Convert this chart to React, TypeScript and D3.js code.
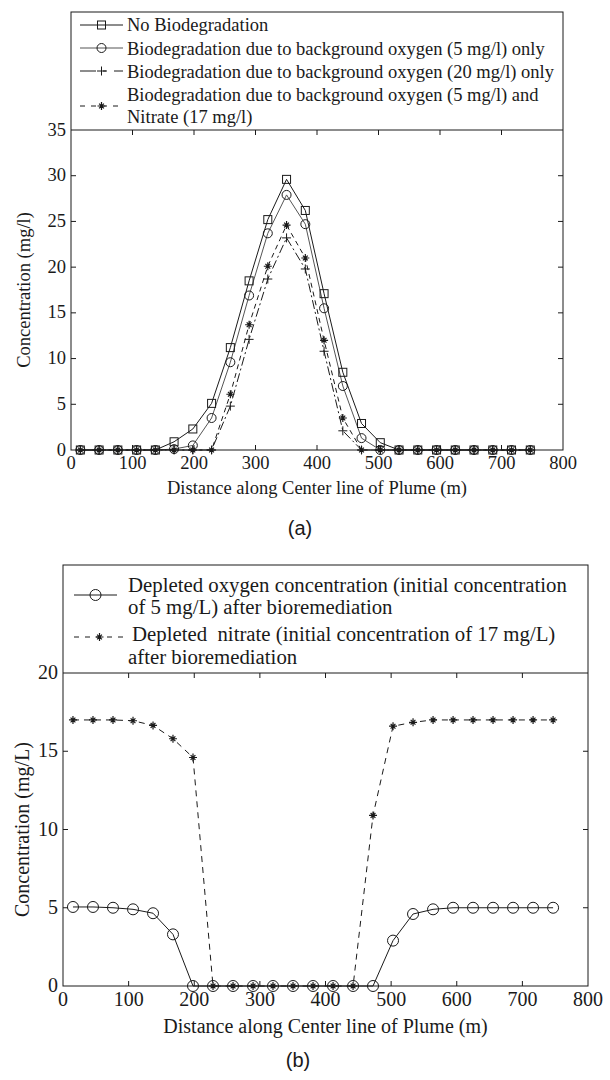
import React from "react";
import * as d3 from "d3";

// Distance of each grid cell centre along the plume centre line (m)
const distance = [
  15.2, 45.7, 76.2, 106.7, 137.2, 167.6, 198.1, 228.6, 259.1, 289.6, 320.0, 350.5,
  381.0, 411.5, 442.0, 472.4, 502.9, 533.4, 563.9, 594.4, 624.8, 655.3, 685.8, 716.3, 746.8,
];

// Panel (a): contaminant concentration (mg/l)
const noBiodegradation = [
  0, 0, 0, 0, 0, 0.9, 2.3, 5.1, 11.2, 18.5, 25.2, 29.6, 26.2, 17.1, 8.5, 2.9, 0.8, 0, 0, 0, 0, 0, 0, 0, 0,
];
const oxygen5Only = [
  0, 0, 0, 0, 0, 0.1, 0.5, 3.5, 9.6, 16.9, 23.7, 27.9, 24.7, 15.5, 7.0, 1.3, 0, 0, 0, 0, 0, 0, 0, 0, 0,
];
const oxygen20Only = [
  0, 0, 0, 0, 0, 0, 0, 0, 4.8, 12.1, 18.7, 23.2, 19.8, 10.8, 2.1, 0, 0, 0, 0, 0, 0, 0, 0, 0, 0,
];
const oxygen5Nitrate17 = [
  0, 0, 0, 0, 0, 0, 0, 0, 6.1, 13.7, 20.1, 24.6, 21.0, 12.0, 3.5, 0, 0, 0, 0, 0, 0, 0, 0, 0, 0,
];

// Panel (b): electron acceptor remaining after bioremediation (mg/L)
const depletedOxygen = [
  5.05, 5.05, 5.0, 4.9, 4.65, 3.3, 0, 0, 0, 0, 0, 0, 0, 0, 0, 0, 2.9, 4.6, 4.9, 5.0, 5.0, 5.0, 5.0, 5.0, 5.0,
];
const depletedNitrate = [
  17.0, 17.0, 17.0, 16.95, 16.65, 15.8, 14.6, 0, 0, 0, 0, 0, 0, 0, 0, 10.9, 16.6, 16.85, 17.0, 17.0, 17.0,
  17.0, 17.0, 17.0, 17.0,
];

const xTicks = [0, 100, 200, 300, 400, 500, 600, 700, 800];
const yTicksA = [0, 5, 10, 15, 20, 25, 30, 35];
const yTicksB = [0, 5, 10, 15, 20];

const SERIF = "'Liberation Serif', 'Times New Roman', serif";
const SANS = "'Liberation Sans', Arial, sans-serif";
const INK = "#1a1a1a";
const GREY = "#555";

type MarkerKind = "square" | "circle" | "plus" | "star";

function Marker({ kind, x, y, s }: { kind: MarkerKind; x: number; y: number; s: number }) {
  const h = s / 2;
  if (kind === "square")
    return <rect x={x - h} y={y - h} width={s} height={s} fill="none" stroke={INK} strokeWidth={1} />;
  if (kind === "circle") return <circle cx={x} cy={y} r={h} fill="none" stroke={INK} strokeWidth={1} />;
  if (kind === "plus")
    return <path d={`M${x - h},${y}H${x + h}M${x},${y - h}V${y + h}`} stroke={INK} strokeWidth={1} />;
  const d = h * 0.6;
  return (
    <path
      d={`M${x - h},${y}H${x + h}M${x},${y - h}V${y + h}M${x - d},${y - d}L${x + d},${y + d}M${x - d},${y + d}L${x + d},${y - d}`}
      stroke={INK}
      strokeWidth={1.2}
    />
  );
}

type Series = { values: number[]; kind: MarkerKind; dash?: string; color: string; size: number };

function Panel({
  x,
  y,
  top,
  yTicks,
  series,
  fontSize,
  yTitle,
  xTitleY,
  letter,
  letterX,
  letterY,
  yTitleX,
  legend,
}: {
  x: d3.ScaleLinear<number, number>;
  y: d3.ScaleLinear<number, number>;
  top: number;
  yTicks: number[];
  series: Series[];
  fontSize: number;
  yTitle: string;
  xTitleY: number;
  letter: string;
  letterX: number;
  letterY: number;
  yTitleX: number;
  legend: React.ReactNode;
}) {
  const [x0, x1] = x.range();
  const [y0, y1] = y.range();
  const tick = 5;
  const line = d3
    .line<number>()
    .x((_, i) => x(distance[i]))
    .y((v) => y(v));
  return (
    <g>
      {series.map((s, k) => (
        <path key={k} d={line(s.values) || ""} fill="none" stroke={s.color} strokeWidth={1} strokeDasharray={s.dash} />
      ))}
      {series.map((s, k) => (
        <g key={k}>
          {s.values.map((v, i) => (
            <Marker key={i} kind={s.kind} x={x(distance[i])} y={y(v)} s={s.size} />
          ))}
        </g>
      ))}
      {/* frame */}
      <rect x={x0} y={top} width={x1 - x0} height={y0 - top} fill="none" stroke={INK} strokeWidth={1} />
      <line x1={x0} x2={x1} y1={y1} y2={y1} stroke={INK} strokeWidth={1} />
      {xTicks.slice(1, -1).map((t) => (
        <g key={t}>
          <line x1={x(t)} x2={x(t)} y1={y0} y2={y0 - tick} stroke={INK} />
          <line x1={x(t)} x2={x(t)} y1={y1} y2={y1 + tick} stroke={INK} />
        </g>
      ))}
      {yTicks.slice(1, -1).map((t) => (
        <g key={t}>
          <line x1={x0} x2={x0 + tick} y1={y(t)} y2={y(t)} stroke={INK} />
          <line x1={x1} x2={x1 - tick} y1={y(t)} y2={y(t)} stroke={INK} />
        </g>
      ))}
      <g fontFamily={SERIF} fontSize={fontSize} fill={INK}>
        {yTicks.map((t) => (
          <text key={t} x={x0 - 5} y={y(t) + fontSize * 0.3} textAnchor="end">
            {t}
          </text>
        ))}
        {xTicks.map((t) => (
          <text key={t} x={x(t)} y={y0 + fontSize * 1.0} textAnchor="middle">
            {t}
          </text>
        ))}
        <text x={(x0 + x1) / 2} y={xTitleY} textAnchor="middle">
          Distance along Center line of Plume (m)
        </text>
        <text
          transform={`translate(${yTitleX},${(y0 + y1) / 2}) rotate(-90)`}
          textAnchor="middle"
          dominantBaseline="central"
        >
          {yTitle}
        </text>
      </g>
      <text x={letterX} y={letterY} textAnchor="middle" fontFamily={SANS} fontSize={20} fill={INK}>
        {letter}
      </text>
      {legend}
    </g>
  );
}

function LegendKey({
  x1,
  x2,
  y,
  kind,
  dash,
  size,
  color,
}: {
  x1: number;
  x2: number;
  y: number;
  kind: MarkerKind;
  dash?: string;
  size: number;
  color: string;
}) {
  return (
    <g>
      <line x1={x1} x2={x2} y1={y} y2={y} stroke={color} strokeWidth={1} strokeDasharray={dash} />
      <Marker kind={kind} x={(x1 + x2) / 2} y={y} s={size} />
    </g>
  );
}

export default function App() {
  // panel (a)
  const xA = d3.scaleLinear().domain([0, 800]).range([71, 563]);
  const yA = d3.scaleLinear().domain([0, 35]).range([450, 130]);
  const seriesA: Series[] = [
    { values: noBiodegradation, kind: "square", color: INK, size: 8 },
    { values: oxygen5Only, kind: "circle", color: GREY, size: 9 },
    { values: oxygen20Only, kind: "plus", dash: "9,3,2,3", color: INK, size: 9 },
    { values: oxygen5Nitrate17, kind: "star", dash: "5,4", color: INK, size: 8 },
  ];
  const fsA = 18.5;
  const legendA = (
    <g fontFamily={SERIF} fontSize={fsA} fill={INK}>
      <LegendKey x1={80} x2={123} y={25} kind="square" size={8} color={INK} />
      <LegendKey x1={80} x2={123} y={48} kind="circle" size={9} color={GREY} />
      <LegendKey x1={80} x2={123} y={71} kind="plus" dash="16,7,4,7" size={9} color={INK} />
      <LegendKey x1={80} x2={123} y={106} kind="star" dash="5,6" size={8} color={INK} />
      <text x={127} y={31}>No Biodegradation</text>
      <text x={127} y={55}>Biodegradation due to background oxygen (5 mg/l) only</text>
      <text x={127} y={78}>Biodegradation due to background oxygen (20 mg/l) only</text>
      <text x={127} y={101}>Biodegradation due to background oxygen (5 mg/l) and</text>
      <text x={127} y={123}>Nitrate (17 mg/l)</text>
    </g>
  );

  // panel (b)
  const xB = d3.scaleLinear().domain([0, 800]).range([63, 588]);
  const yB = d3.scaleLinear().domain([0, 20]).range([986, 673]);
  const seriesB: Series[] = [
    { values: depletedOxygen, kind: "circle", color: INK, size: 11 },
    { values: depletedNitrate, kind: "star", dash: "6,5", color: INK, size: 8 },
  ];
  const fsB = 20;
  const legendB = (
    <g fontFamily={SERIF} fontSize={20.8} fill={INK}>
      <LegendKey x1={74} x2={117} y={595} kind="circle" size={11} color={INK} />
      <LegendKey x1={74} x2={125} y={637} kind="star" dash="5,6" size={8} color={INK} />
      <text x={128} y={592}>Depleted oxygen concentration (initial concentration</text>
      <text x={128} y={614}>of 5 mg/L) after bioremediation</text>
      <text x={132} y={641}>Depleted&#160; nitrate (initial concentration of 17 mg/L)</text>
      <text x={128} y={664}>after bioremediation</text>
    </g>
  );

  return (
    <svg width={610} height={1080} style={{ display: "block", position: "absolute", left: 0, top: 0 }}>
      <rect width={610} height={1080} fill="#fff" />
      <Panel
        x={xA}
        y={yA}
        top={12}
        yTicks={yTicksA}
        series={seriesA}
        fontSize={fsA}
        yTitle="Concentration (mg/l)"
        xTitleY={494}
        letter="(a)"
        letterX={300}
        letterY={535}
        yTitleX={24}
        legend={legendA}
      />
      <Panel
        x={xB}
        y={yB}
        top={565}
        yTicks={yTicksB}
        series={seriesB}
        fontSize={fsB}
        yTitle="Concentration (mg/L)"
        xTitleY={1033}
        letter="(b)"
        letterX={298}
        letterY={1067}
        yTitleX={22}
        legend={legendB}
      />
    </svg>
  );
}
